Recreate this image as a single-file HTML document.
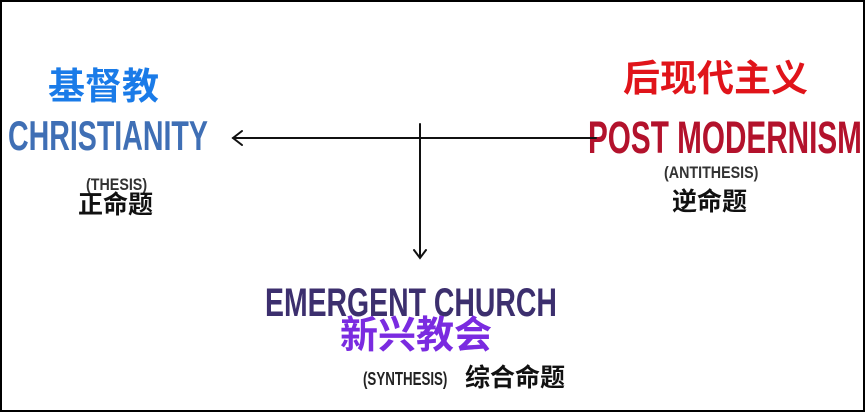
<!DOCTYPE html>
<html><head><meta charset="utf-8"><style>
html,body{margin:0;padding:0;background:#fff}
body{width:865px;height:412px;position:relative;overflow:hidden;font-family:"Liberation Sans","Noto Sans CJK SC",sans-serif}
.frame{position:absolute;left:0;top:0;width:861px;height:408px;border:2px solid #000}
.t{position:absolute;white-space:nowrap;line-height:1;font-weight:bold}
.cond{transform-origin:0 0}
</style></head><body>
<div class="frame"></div>
<div class="t" style="left:48px;top:68px;font-size:37px;color:#1a7be8">基督教</div>
<div class="t cond" style="left:8px;top:115px;font-size:42px;color:#3f6fb5;transform:scaleX(0.68)">CHRISTIANITY</div>
<div class="t cond" style="left:86px;top:176px;font-size:17px;color:#333;transform:scaleX(0.84)">(THESIS)</div>
<div class="t" style="left:78px;top:193px;font-size:25px;color:#111">正命题</div>

<div class="t" style="left:623px;top:60px;font-size:37px;color:#e0141a">后现代主义</div>
<div class="t cond" style="left:588px;top:115px;font-size:45px;color:#b3122c;transform:scaleX(0.66)">POST MODERNISM</div>
<div class="t cond" style="left:664px;top:164px;font-size:17px;color:#333;transform:scaleX(0.84)">(ANTITHESIS)</div>
<div class="t" style="left:672px;top:190px;font-size:25px;color:#111">逆命题</div>

<div class="t cond" style="left:265px;top:283px;font-size:40px;color:#3c2f6e;transform:scaleX(0.71)">EMERGENT CHURCH</div>
<div class="t" style="left:340px;top:317px;font-size:38px;color:#7a2be0">新兴教会</div>
<div class="t cond" style="left:363px;top:370px;font-size:18px;color:#222;transform:scaleX(0.74)">(SYNTHESIS)</div>
<div class="t" style="left:465px;top:366px;font-size:25px;color:#111">综合命题</div>

<svg width="865" height="412" style="position:absolute;left:0;top:0">
<g stroke="#111" stroke-width="2" fill="none" stroke-linecap="round">
<line x1="233" y1="138" x2="596" y2="138"/>
<polyline points="242,131 233,138 242,145"/>
<line x1="420" y1="124" x2="420" y2="257"/>
<polyline points="414,250 420,258 426,250"/>
</g>
</svg>
</body></html>
